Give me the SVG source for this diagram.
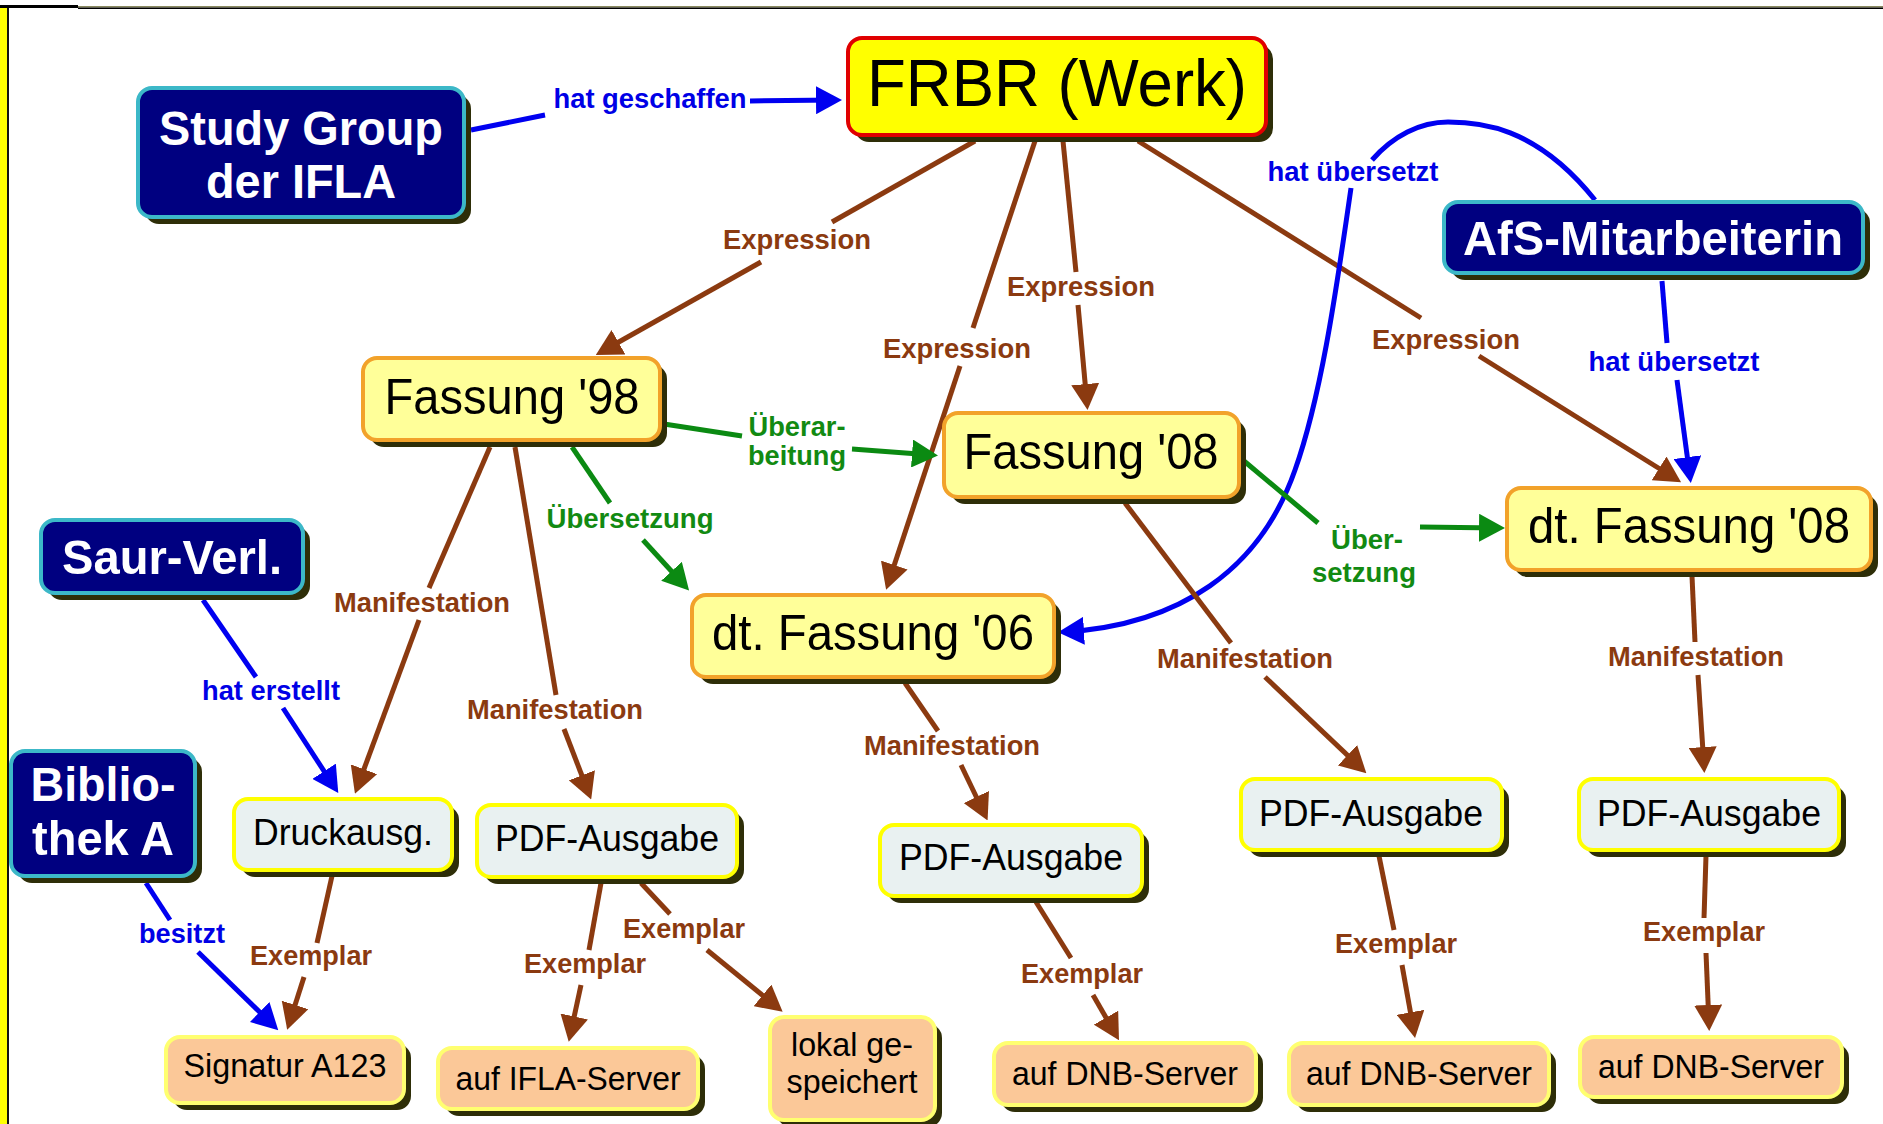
<svg xmlns="http://www.w3.org/2000/svg" width="1883" height="1124" viewBox="0 0 1883 1124">
<style>
text{font-family:"Liberation Sans",Arial,"DejaVu Sans",sans-serif;text-anchor:middle}
.sh{fill:#2e2e08}
.navy{fill:#000080;stroke:#3cb8c8;stroke-width:4}
.frbr{fill:#ffff00;stroke:#e00000;stroke-width:4}
.fass{fill:#ffff99;stroke:#f2a22a;stroke-width:4}
.pdf{fill:#e9f1f1;stroke:#ffff00;stroke-width:4}
.ex{fill:#fbc898;stroke:#ffff70;stroke-width:4}
.tn{fill:#fff;font-weight:bold;font-size:49px}
.tf{fill:#000;font-size:50px}
.tp{fill:#000;font-size:37px}
.te{fill:#000;font-size:34px}
.lbl{font-weight:bold;font-size:28.5px}
.lb{fill:#8b3a10}.lu{fill:#0000e6}.lg{fill:#128a12}
.cb{fill:none;stroke:#8b3a10;stroke-width:5}
.cu{fill:none;stroke:#0000f0;stroke-width:5}
.cg{fill:none;stroke:#0b8a12;stroke-width:5}
.ab{marker-end:url(#mb)}.au{marker-end:url(#mu)}.ag{marker-end:url(#mg)}
</style>
<defs>
<marker id="mb" markerUnits="userSpaceOnUse" viewBox="0 0 26 28" refX="20" refY="14" markerWidth="26" markerHeight="28" orient="auto"><path d="M0,0 L26,14 L0,28 Z" fill="#8b3a10"/></marker>
<marker id="mu" markerUnits="userSpaceOnUse" viewBox="0 0 26 28" refX="20" refY="14" markerWidth="26" markerHeight="28" orient="auto"><path d="M0,0 L26,14 L0,28 Z" fill="#0000f0"/></marker>
<marker id="mg" markerUnits="userSpaceOnUse" viewBox="0 0 26 28" refX="20" refY="14" markerWidth="26" markerHeight="28" orient="auto"><path d="M0,0 L26,14 L0,28 Z" fill="#0b8a12"/></marker>
</defs>
<rect width="1883" height="1124" fill="#fff"/>
<g id="frame">
<rect x="0" y="7" width="7" height="1117" fill="#ffff00"/>
<rect x="7" y="6" width="2" height="1118" fill="#111"/>
<rect x="0" y="5" width="78" height="3" fill="#000"/>
<rect x="78" y="6" width="1805" height="1.5" fill="#8a8a60"/>
<rect x="78" y="7.5" width="1805" height="1.5" fill="#000"/>
</g>
<g id="connectors">
<g id="c-geschaffen"><path class="cu" d="M471,130 L545,115"/><path class="cu au" d="M750,101 L836,100"/><text class="lbl lu" x="650" y="108" textLength="193" lengthAdjust="spacingAndGlyphs">hat geschaffen</text></g>
<g id="c-exp1"><path class="cb" d="M975,141 L832,222"/><path class="cb ab" d="M761,262 L601,352"/><text class="lbl lb" x="797" y="249" textLength="148" lengthAdjust="spacingAndGlyphs">Expression</text></g>
<g id="c-exp2"><path class="cb" d="M1035,141 L973,328"/><path class="cb ab" d="M960,366 L888,584"/><text class="lbl lb" x="957" y="358" textLength="148" lengthAdjust="spacingAndGlyphs">Expression</text></g>
<g id="c-exp3"><path class="cb" d="M1063,141 L1076,272"/><path class="cb ab" d="M1078,305 L1087,404"/><text class="lbl lb" x="1081" y="296" textLength="148" lengthAdjust="spacingAndGlyphs">Expression</text></g>
<g id="c-exp4"><path class="cb" d="M1138,141 L1421,318"/><path class="cb ab" d="M1479,356 L1676,479"/><text class="lbl lb" x="1446" y="349" textLength="148" lengthAdjust="spacingAndGlyphs">Expression</text></g>
<g id="c-afs1"><path class="cu" d="M1662,281 L1667,343"/><path class="cu au" d="M1677,380 L1690,477"/><text class="lbl lu" x="1674" y="371" textLength="171" lengthAdjust="spacingAndGlyphs">hat übersetzt</text></g>
<g id="c-afs2"><path class="cu" d="M1595,200 C1535,125 1478,122 1448,122 C1420,122 1393,136 1372,160"/><path class="cu au" d="M1351,188 C1335,300 1320,400 1295,470 C1260,570 1180,625 1064,632"/><text class="lbl lu" x="1353" y="181" textLength="171" lengthAdjust="spacingAndGlyphs">hat übersetzt</text></g>
<g id="c-ueberarb"><path class="cg" d="M664,424 L742,436"/><path class="cg ag" d="M852,449 L932,455"/><text class="lbl lg" x="797" y="436" textLength="97" lengthAdjust="spacingAndGlyphs">Überar-</text><text class="lbl lg" x="797" y="465" textLength="98" lengthAdjust="spacingAndGlyphs">beitung</text></g>
<g id="c-uebers1"><path class="cg" d="M572,447 L610,503"/><path class="cg ag" d="M643,540 L685,586"/><text class="lbl lg" x="630" y="528" textLength="167" lengthAdjust="spacingAndGlyphs">Übersetzung</text></g>
<g id="c-uebers2"><path class="cg" d="M1244,461 L1318,523"/><path class="cg ag" d="M1420,527 L1499,528"/><text class="lbl lg" x="1367" y="549" textLength="72" lengthAdjust="spacingAndGlyphs">Über-</text><text class="lbl lg" x="1364" y="582" textLength="104" lengthAdjust="spacingAndGlyphs">setzung</text></g>
<g id="c-man1"><path class="cb" d="M490,447 L429,588"/><path class="cb ab" d="M419,620 L357,788"/><text class="lbl lb" x="422" y="612" textLength="176" lengthAdjust="spacingAndGlyphs">Manifestation</text></g>
<g id="c-man2"><path class="cb" d="M515,447 L556,695"/><path class="cb ab" d="M564,729 L589,794"/><text class="lbl lb" x="555" y="719" textLength="176" lengthAdjust="spacingAndGlyphs">Manifestation</text></g>
<g id="c-erstellt"><path class="cu" d="M203,600 L256,677"/><path class="cu au" d="M283,708 L335,788"/><text class="lbl lu" x="271" y="700" textLength="138" lengthAdjust="spacingAndGlyphs">hat erstellt</text></g>
<g id="c-besitzt"><path class="cu" d="M146,883 L170,920"/><path class="cu au" d="M198,952 L274,1026"/><text class="lbl lu" x="182" y="943" textLength="86" lengthAdjust="spacingAndGlyphs">besitzt</text></g>
<g id="c-ex1"><path class="cb" d="M332,876 L317,943"/><path class="cb ab" d="M304,977 L289,1024"/><text class="lbl lb" x="311" y="965" textLength="122" lengthAdjust="spacingAndGlyphs">Exemplar</text></g>
<g id="c-ex2"><path class="cb" d="M601,883 L589,950"/><path class="cb ab" d="M581,985 L570,1036"/><text class="lbl lb" x="585" y="973" textLength="122" lengthAdjust="spacingAndGlyphs">Exemplar</text></g>
<g id="c-ex3"><path class="cb" d="M641,883 L670,914"/><path class="cb ab" d="M707,950 L778,1008"/><text class="lbl lb" x="684" y="938" textLength="122" lengthAdjust="spacingAndGlyphs">Exemplar</text></g>
<g id="c-man3"><path class="cb" d="M905,683 L938,731"/><path class="cb ab" d="M961,765 L985,815"/><text class="lbl lb" x="952" y="755" textLength="176" lengthAdjust="spacingAndGlyphs">Manifestation</text></g>
<g id="c-man4"><path class="cb" d="M1125,503 L1231,643"/><path class="cb ab" d="M1265,677 L1362,769"/><text class="lbl lb" x="1245" y="668" textLength="176" lengthAdjust="spacingAndGlyphs">Manifestation</text></g>
<g id="c-man5"><path class="cb" d="M1692,576 L1695,642"/><path class="cb ab" d="M1698,675 L1704,767"/><text class="lbl lb" x="1696" y="666" textLength="176" lengthAdjust="spacingAndGlyphs">Manifestation</text></g>
<g id="c-ex4"><path class="cb" d="M1036,902 L1071,958"/><path class="cb ab" d="M1093,995 L1116,1035"/><text class="lbl lb" x="1082" y="983" textLength="122" lengthAdjust="spacingAndGlyphs">Exemplar</text></g>
<g id="c-ex5"><path class="cb" d="M1379,856 L1394,930"/><path class="cb ab" d="M1402,965 L1414,1032"/><text class="lbl lb" x="1396" y="953" textLength="122" lengthAdjust="spacingAndGlyphs">Exemplar</text></g>
<g id="c-ex6"><path class="cb" d="M1706,856 L1704,918"/><path class="cb ab" d="M1706,953 L1709,1025"/><text class="lbl lb" x="1704" y="941" textLength="122" lengthAdjust="spacingAndGlyphs">Exemplar</text></g>
</g>
<g id="n-study"><rect class="sh" x="145" y="95" width="326" height="129" rx="14"/><rect class="navy" x="138" y="88" width="326" height="129" rx="14"/><text class="tn" x="301" y="145" textLength="284" lengthAdjust="spacingAndGlyphs">Study Group</text><text class="tn" x="301" y="198" textLength="190" lengthAdjust="spacingAndGlyphs">der IFLA</text></g>
<g id="n-frbr"><rect class="sh" x="855" y="45" width="418" height="97" rx="14"/><rect class="frbr" x="848" y="38" width="418" height="97" rx="14"/><text x="1057" y="106" font-size="66" fill="#000" textLength="380" lengthAdjust="spacingAndGlyphs">FRBR (Werk)</text></g>
<g id="n-afs"><rect class="sh" x="1451" y="209" width="419" height="71" rx="14"/><rect class="navy" x="1444" y="202" width="419" height="71" rx="14"/><text class="tn" x="1653" y="255" textLength="380" lengthAdjust="spacingAndGlyphs">AfS-Mitarbeiterin</text></g>
<g id="n-f98"><rect class="sh" x="370" y="365" width="297" height="82" rx="14"/><rect class="fass" x="363" y="358" width="297" height="82" rx="14"/><text class="tf" x="512" y="414" textLength="255" lengthAdjust="spacingAndGlyphs">Fassung '98</text></g>
<g id="n-f08"><rect class="sh" x="951" y="420" width="295" height="84" rx="14"/><rect class="fass" x="944" y="413" width="295" height="84" rx="14"/><text class="tf" x="1091" y="469" textLength="255" lengthAdjust="spacingAndGlyphs">Fassung '08</text></g>
<g id="n-dt08"><rect class="sh" x="1514" y="495" width="364" height="82" rx="14"/><rect class="fass" x="1507" y="488" width="364" height="82" rx="14"/><text class="tf" x="1689" y="543" textLength="322" lengthAdjust="spacingAndGlyphs">dt. Fassung '08</text></g>
<g id="n-dt06"><rect class="sh" x="699" y="602" width="362" height="82" rx="14"/><rect class="fass" x="692" y="595" width="362" height="82" rx="14"/><text class="tf" x="873" y="650" textLength="322" lengthAdjust="spacingAndGlyphs">dt. Fassung '06</text></g>
<g id="n-saur"><rect class="sh" x="48" y="527" width="262" height="73" rx="14"/><rect class="navy" x="41" y="520" width="262" height="73" rx="14"/><text class="tn" x="172" y="574" textLength="220" lengthAdjust="spacingAndGlyphs">Saur-Verl.</text></g>
<g id="n-bib"><rect class="sh" x="18" y="758" width="184" height="125" rx="14"/><rect class="navy" x="11" y="751" width="184" height="125" rx="14"/><text class="tn" x="103" y="801" textLength="145" lengthAdjust="spacingAndGlyphs">Biblio-</text><text class="tn" x="103" y="855" textLength="142" lengthAdjust="spacingAndGlyphs">thek A</text></g>
<g id="n-druck"><rect class="sh" x="241" y="806" width="218" height="71" rx="14"/><rect class="pdf" x="234" y="799" width="218" height="71" rx="14"/><text class="tp" x="343" y="845" textLength="180" lengthAdjust="spacingAndGlyphs">Druckausg.</text></g>
<g id="n-pdf1"><rect class="sh" x="484" y="812" width="260" height="72" rx="14"/><rect class="pdf" x="477" y="805" width="260" height="72" rx="14"/><text class="tp" x="607" y="851" textLength="224" lengthAdjust="spacingAndGlyphs">PDF-Ausgabe</text></g>
<g id="n-pdf2"><rect class="sh" x="887" y="832" width="262" height="71" rx="14"/><rect class="pdf" x="880" y="825" width="262" height="71" rx="14"/><text class="tp" x="1011" y="870" textLength="224" lengthAdjust="spacingAndGlyphs">PDF-Ausgabe</text></g>
<g id="n-pdf3"><rect class="sh" x="1248" y="786" width="261" height="71" rx="14"/><rect class="pdf" x="1241" y="779" width="261" height="71" rx="14"/><text class="tp" x="1371" y="826" textLength="224" lengthAdjust="spacingAndGlyphs">PDF-Ausgabe</text></g>
<g id="n-pdf4"><rect class="sh" x="1586" y="786" width="260" height="71" rx="14"/><rect class="pdf" x="1579" y="779" width="260" height="71" rx="14"/><text class="tp" x="1709" y="826" textLength="224" lengthAdjust="spacingAndGlyphs">PDF-Ausgabe</text></g>
<g id="n-sig"><rect class="sh" x="173" y="1044" width="238" height="66" rx="14"/><rect class="ex" x="166" y="1037" width="238" height="66" rx="14"/><text class="te" x="285" y="1077" textLength="203" lengthAdjust="spacingAndGlyphs">Signatur A123</text></g>
<g id="n-ifla"><rect class="sh" x="445" y="1055" width="260" height="61" rx="14"/><rect class="ex" x="438" y="1048" width="260" height="61" rx="14"/><text class="te" x="568" y="1090" textLength="225" lengthAdjust="spacingAndGlyphs">auf IFLA-Server</text></g>
<g id="n-lokal"><rect class="sh" x="777" y="1024" width="165" height="103" rx="14"/><rect class="ex" x="770" y="1017" width="165" height="103" rx="14"/><text class="te" x="852" y="1056" textLength="122" lengthAdjust="spacingAndGlyphs">lokal ge-</text><text class="te" x="852" y="1093" textLength="131" lengthAdjust="spacingAndGlyphs">speichert</text></g>
<g id="n-dnb1"><rect class="sh" x="1001" y="1050" width="262" height="62" rx="14"/><rect class="ex" x="994" y="1043" width="262" height="62" rx="14"/><text class="te" x="1125" y="1085" textLength="226" lengthAdjust="spacingAndGlyphs">auf DNB-Server</text></g>
<g id="n-dnb2"><rect class="sh" x="1296" y="1050" width="260" height="62" rx="14"/><rect class="ex" x="1289" y="1043" width="260" height="62" rx="14"/><text class="te" x="1419" y="1085" textLength="226" lengthAdjust="spacingAndGlyphs">auf DNB-Server</text></g>
<g id="n-dnb3"><rect class="sh" x="1587" y="1044" width="262" height="60" rx="14"/><rect class="ex" x="1580" y="1037" width="262" height="60" rx="14"/><text class="te" x="1711" y="1078" textLength="226" lengthAdjust="spacingAndGlyphs">auf DNB-Server</text></g>
</svg>
